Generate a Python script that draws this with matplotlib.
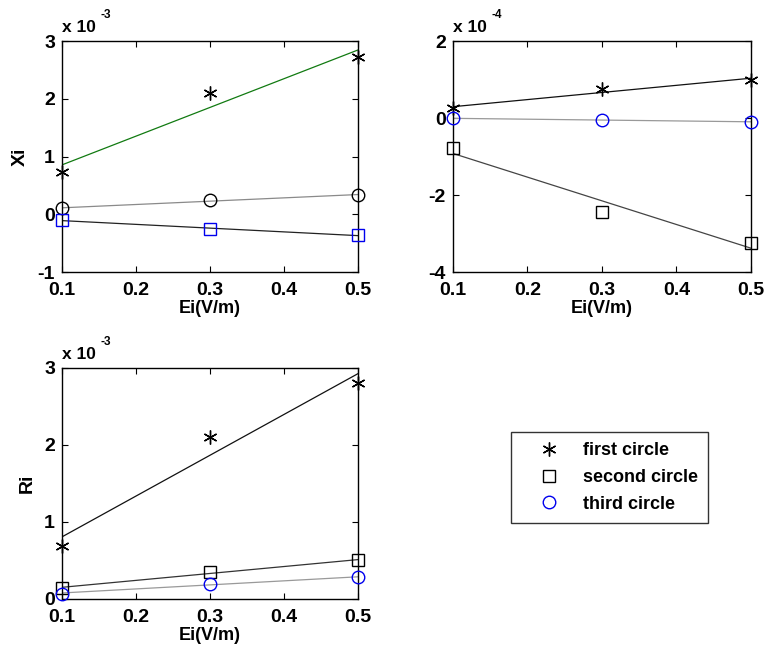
# -*- coding: utf-8 -*-
"""Xi / Ri versus Ei for three circles, with linear fits"""

import numpy as np
import matplotlib
matplotlib.use('Agg')
import matplotlib.pyplot as plt

plt.rcParams['font.family'] = ['Liberation Sans', 'DejaVu Sans']
plt.rcParams['font.weight'] = 'bold'
plt.rcParams['axes.unicode_minus'] = False

# field strength Ei (V/m)
ei = [0.1, 0.3, 0.5]

# Xi, first panel (x 1e-3)
xi1_first = [0.73, 2.10, 2.72]
xi1_second = [0.10, 0.25, 0.33]
xi1_third = [-0.10, -0.26, -0.36]

# Xi, second panel (x 1e-4)
xi2_first = [0.25, 0.75, 0.99]
xi2_second = [-0.78, -2.43, -3.24]
xi2_third = [-0.01, -0.05, -0.10]

# Ri (x 1e-3)
ri_first = [0.69, 2.10, 2.81]
ri_second = [0.14, 0.355, 0.50]
ri_third = [0.07, 0.20, 0.28]

xticks = [0.1, 0.2, 0.3, 0.4, 0.5]

fig = plt.figure(figsize=(7.65, 6.55), dpi=100)
ax1 = fig.add_axes([0.081, 0.5847, 0.387, 0.3527])
ax2 = fig.add_axes([0.592, 0.5847, 0.3895, 0.3527])
ax3 = fig.add_axes([0.081, 0.0855, 0.387, 0.3527])


def fit_line(ax, y, color, lw=0.9):
    k, b = np.polyfit(ei, y, 1)
    xs = np.array([ei[0], ei[-1]])
    ax.plot(xs, k * xs + b, color=color, lw=lw, zorder=2)


def points(ax, y, marker, color, ms, label=None):
    return ax.plot(ei, y, linestyle='none', marker=marker, ms=ms,
                   mec=color, mfc='none', mew=1.0, clip_on=False,
                   zorder=3, label=label)[0]


star = (6, 2, 0)

# panel 1
fit_line(ax1, xi1_first, '#117a11')
fit_line(ax1, xi1_second, '#8a8a8a')
fit_line(ax1, xi1_third, '#222222')
points(ax1, xi1_first, star, 'black', 10)
points(ax1, xi1_second, 'o', 'black', 9)
points(ax1, xi1_third, 's', '#0000ee', 9)
ax1.set_ylim(-1, 3)
ax1.set_yticks([-1, 0, 1, 2, 3])
ax1.set_ylabel('Xi', fontsize=14, fontweight='bold', labelpad=6)

# panel 2
fit_line(ax2, xi2_first, '#111111')
fit_line(ax2, xi2_second, '#444444')
fit_line(ax2, xi2_third, '#999999')
points(ax2, xi2_first, star, 'black', 10)
points(ax2, xi2_second, 's', 'black', 9)
points(ax2, xi2_third, 'o', '#0000ee', 9)
ax2.set_ylim(-4, 2)
ax2.set_yticks([-4, -2, 0, 2])

# panel 3
fit_line(ax3, ri_first, '#111111')
fit_line(ax3, ri_second, '#333333')
fit_line(ax3, ri_third, '#999999')
h1 = points(ax3, ri_first, star, 'black', 10, 'first circle')
h2 = points(ax3, ri_second, 's', 'black', 9, 'second circle')
h3 = points(ax3, ri_third, 'o', '#0000ee', 9, 'third circle')
ax3.set_ylim(0, 3)
ax3.set_yticks([0, 1, 2, 3])
ax3.set_ylabel('Ri', fontsize=14, fontweight='bold', labelpad=6)

for ax, expo in [(ax1, '-3'), (ax2, '-4'), (ax3, '-3')]:
    ax.set_xlim(0.1, 0.5)
    ax.set_xticks(xticks)
    ax.set_xticklabels([f'{t:.1f}' for t in xticks])
    ax.tick_params(direction='in', top=True, right=True, length=4,
                   width=0.8, labelsize=14)
    ax.tick_params(axis='x', pad=7)
    ax.tick_params(axis='y', pad=5)
    for lab in ax.get_xticklabels() + ax.get_yticklabels():
        lab.set_fontweight('bold')
    for sp in ax.spines.values():
        sp.set_linewidth(1.0)
    ax.set_xlabel('Ei(V/m)', fontsize=13, fontweight='bold', labelpad=1)
    # MATLAB style exponent label above the axes
    ax.text(0.0, 1.025, 'x 10', transform=ax.transAxes, fontsize=12.5,
            fontweight='bold', ha='left', va='bottom')
    ax.text(0.13, 1.085, expo, transform=ax.transAxes, fontsize=8.5,
            fontweight='bold', ha='left', va='bottom')

leg = fig.legend(handles=[h1, h2, h3], loc='upper left',
                 bbox_to_anchor=(511 / 765, 1 - 432 / 655), borderaxespad=0,
                 frameon=True, fancybox=False, edgecolor='black',
                 handletextpad=0.35, borderpad=0.55, labelspacing=0.55,
                 handlelength=3.1, prop={'weight': 'bold', 'size': 13})
leg.get_frame().set_linewidth(1.0)

fig.savefig('out.png', dpi=100)
